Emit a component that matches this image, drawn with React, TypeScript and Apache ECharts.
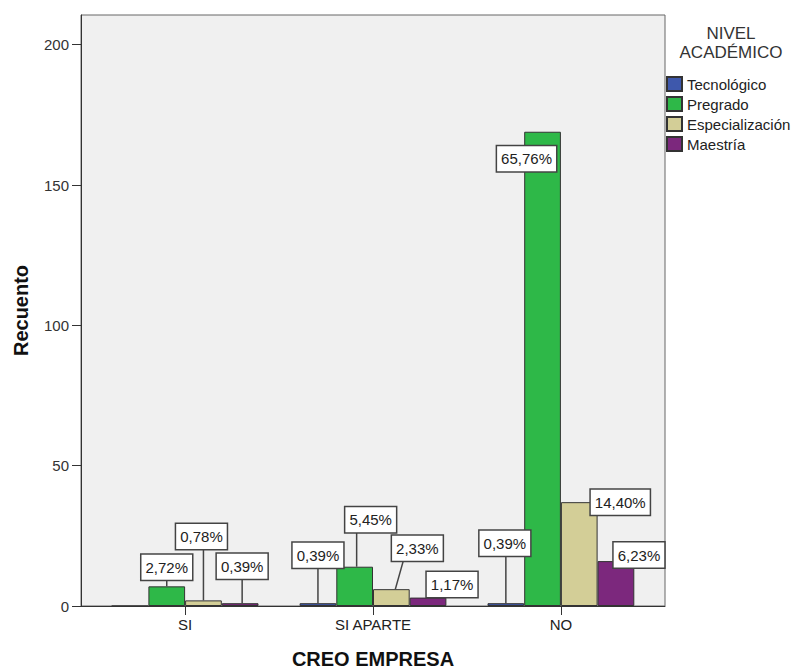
import React, { useEffect, useRef } from "react";
import * as echarts from "echarts";

// Counts per answer (CREO EMPRESA) and academic level
const categories = ["SI", "SI APARTE", "NO"];
const levels = ["Tecnológico", "Pregrado", "Especialización", "Maestría"];
const tecnologico = [0, 1, 1];
const pregrado = [7, 14, 169];
const especializacion = [2, 6, 37];
const maestria = [1, 3, 16];
const yTicks = [0, 50, 100, 150, 200];

const seriesValues = [tecnologico, pregrado, especializacion, maestria];
const colors = ["#3E58AC", "#2EB848", "#D3CE97", "#7C287D"];
const total = seriesValues.flat().reduce((a, b) => a + b, 0);

// Where each percentage box sits relative to the top centre of its bar (px),
// with an optional leader line [startDx, endDx].
type Placement = { dx: number; dy: number; line?: [number, number] } | null;
const placements: Placement[][] = [
  [null, { dx: 0, dy: -48, line: [0, 0] }, { dx: -1, dy: -60, line: [0, 0] }],
  [{ dx: 0, dy: -19, line: [0, 0] }, { dx: 16, dy: -47, line: [2, 2] }, { dx: -16, dy: 27 }],
  [{ dx: -2, dy: -64, line: [0, 0] }, { dx: 26, dy: -41, line: [4, 12] }, { dx: 41, dy: 0 }],
  [{ dx: 2, dy: -37, line: [2, 2] }, { dx: 24, dy: -13 }, { dx: 23, dy: -6 }],
];

const FONT = "'Liberation Sans', Arial, sans-serif";
const BAR_W = 36.7;
const BOX_H = 25;

const fmtPct = (v: number) => ((v / total) * 100).toFixed(2).replace(".", ",") + "%";

export default function App() {
  const ref = useRef<HTMLDivElement>(null);

  useEffect(() => {
    if (!ref.current) return;
    const chart = echarts.init(ref.current, undefined, { renderer: "svg" });

    const labelData: number[][] = [];
    seriesValues.forEach((vals, s) => {
      vals.forEach((v, c) => {
        if (placements[s][c]) labelData.push([c, v, s]);
      });
    });

    const barSeries = levels.map((name, s) => ({
      name,
      type: "bar",
      data: seriesValues[s].map((v, c) => [c, v]),
      barWidth: BAR_W,
      barGap: "0%",
      itemStyle: { color: colors[s], borderColor: "#333", borderWidth: 1 },
      emphasis: { disabled: true },
    }));

    const labelSeries = {
      type: "custom",
      coordinateSystem: "cartesian2d",
      encode: { x: 0, y: 1 },
      data: labelData,
      z: 10,
      silent: true,
      clip: false,
      renderItem: (_params: any, api: any) => {
        const c = api.value(0);
        const v = api.value(1);
        const s = api.value(2);
        const p = placements[s][c]!;
        const top = api.coord([c, v]);
        const cx = top[0] + (s - 1.5) * BAR_W;
        const bx = cx + p.dx;
        const by = top[1] + p.dy;
        const children: any[] = [];
        if (p.line) {
          children.push({
            type: "line",
            shape: { x1: cx + p.line[0], y1: top[1], x2: cx + p.line[1], y2: by + BOX_H / 2 },
            style: { stroke: "#444", lineWidth: 1.5 },
          });
        }
        children.push({
          type: "text",
          x: bx,
          y: by,
          style: {
            text: fmtPct(v),
            align: "center",
            verticalAlign: "middle",
            fontSize: 15,
            fontFamily: FONT,
            fill: "#222",
            lineHeight: 17,
            backgroundColor: "#fff",
            borderColor: "#444",
            borderWidth: 1.5,
            padding: [4, 4, 4, 4],
          },
        });
        return { type: "group", children };
      },
    };

    chart.setOption({
      animation: false,
      textStyle: { fontFamily: FONT },
      grid: {
        left: 81,
        top: 15,
        width: 584,
        height: 591,
        show: true,
        backgroundColor: "#f0f0f0",
        borderColor: "#666",
        borderWidth: 1,
        containLabel: false,
        outerBoundsMode: "none",
      },
      xAxis: {
        type: "value",
        min: -0.554,
        max: 2.554,
        name: "CREO EMPRESA",
        nameLocation: "middle",
        nameGap: 43,
        nameTextStyle: {
          fontSize: 20,
          lineHeight: 20,
          fontWeight: "bold",
          color: "#111",
          fontFamily: FONT,
        },
        splitLine: { show: false },
        axisLine: { show: true, onZero: false, lineStyle: { color: "#333", width: 1 } },
        axisTick: { show: true, length: 9, customValues: [0, 1, 2], lineStyle: { color: "#333" } },
        axisLabel: {
          customValues: [0, 1, 2],
          formatter: (v: number) => categories[Math.round(v)] ?? "",
          fontSize: 15,
          color: "#222",
          margin: 11,
          fontFamily: FONT,
        },
      },
      yAxis: {
        type: "value",
        min: 0,
        max: 210.6,
        name: "Recuento",
        nameLocation: "middle",
        nameGap: 50,
        nameTextStyle: { fontSize: 20, fontWeight: "bold", color: "#111", fontFamily: FONT },
        splitLine: { show: false },
        axisLine: { show: true, onZero: false, lineStyle: { color: "#333", width: 1 } },
        axisTick: { show: true, length: 9, customValues: yTicks, lineStyle: { color: "#333" } },
        axisLabel: {
          customValues: yTicks,
          fontSize: 15,
          color: "#333",
          margin: 12,
          fontFamily: FONT,
        },
      },
      legend: {
        data: levels,
        orient: "vertical",
        left: 666,
        top: 76,
        padding: 0,
        itemWidth: 15,
        itemHeight: 14,
        itemGap: 4,
        icon: "rect",
        selectedMode: false,
        textStyle: { fontSize: 15, color: "#222", lineHeight: 14, fontFamily: FONT },
      },
      graphic: [
        {
          type: "text",
          x: 731,
          y: 24,
          style: {
            text: "NIVEL\nACADÉMICO",
            align: "center",
            verticalAlign: "top",
            fontSize: 17,
            lineHeight: 19,
            fontFamily: FONT,
            fill: "#333",
          },
        },
      ],
      series: [...barSeries, labelSeries],
    });

    return () => chart.dispose();
  }, []);

  return (
    <div
      ref={ref}
      style={{ position: "fixed", left: 0, top: 0, width: 796, height: 669, background: "#fff" }}
    />
  );
}
